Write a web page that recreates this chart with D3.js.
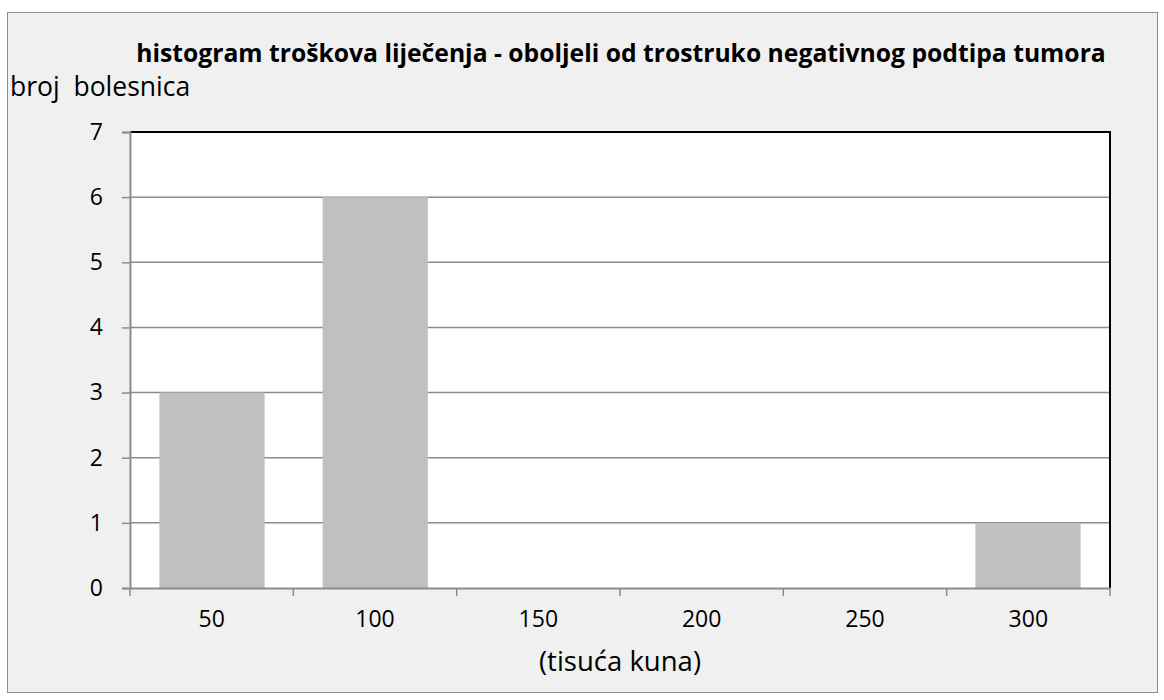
<!DOCTYPE html>
<html lang="hr">
<head>
<meta charset="UTF-8">
<title>histogram</title>
<script src="https://d3js.org/d3.v7.min.js"></script>
<style>
  body { margin: 0; background: #fff; }
  text { font-family: "Open Sans", "Noto Sans", sans-serif; fill: #000; }
</style>
</head>
<body>
<div id="main"></div>
<script>
// podaci
var categories = ['50', '100', '150', '200', '250', '300']
var counts = [3, 6, 0, 0, 0, 1]
var yTicks = [0, 1, 2, 3, 4, 5, 6, 7]

var width = 1164
var height = 700
var plot = {left: 130, top: 132, right: 1110, bottom: 588}

var svg = d3.select('#main').append('svg')
    .attr('width', width)
    .attr('height', height)

// pozadina i okvir
svg.append('rect')
    .attr('width', width).attr('height', height)
    .attr('fill', '#ffffff')
svg.append('rect')
    .attr('x', 7.5).attr('y', 12.5)
    .attr('width', 1150).attr('height', 680)
    .attr('fill', '#f0f0f0')
    .attr('stroke', '#8c8c8c')

// bijela površina grafa
svg.append('rect')
    .attr('x', plot.left).attr('y', plot.top)
    .attr('width', plot.right - plot.left).attr('height', plot.bottom - plot.top)
    .attr('fill', '#ffffff')

var xScale = d3.scaleBand()
    .domain(categories)
    .range([plot.left, plot.right])
    .paddingInner(0.355).paddingOuter(0.18)

var xTickScale = d3.scaleBand()
    .domain(categories)
    .range([plot.left, plot.right])

var yScale = d3.scaleLinear()
    .domain([0, 7])
    .range([plot.bottom, plot.top])

// mreža
svg.append('g')
    .selectAll('line')
    .data(yTicks.filter(d => d > 0 && d < 7))
    .enter()
    .append('line')
    .attr('x1', plot.left).attr('x2', plot.right)
    .attr('y1', d => yScale(d)).attr('y2', d => yScale(d))
    .attr('stroke', '#8c8c8c')
    .attr('stroke-width', 1.5)

// stupci
svg.append('g')
    .selectAll('rect')
    .data(counts)
    .enter()
    .append('rect')
    .attr('x', (d, i) => xScale(categories[i]))
    .attr('y', d => yScale(d))
    .attr('width', xScale.bandwidth())
    .attr('height', d => plot.bottom - yScale(d))
    .attr('fill', '#c0c0c0')

// crni gornji i desni rub
svg.append('path')
    .attr('d', `M${plot.left},${plot.top}H${plot.right}V${plot.bottom}`)
    .attr('fill', 'none')
    .attr('stroke', '#000')
    .attr('stroke-width', 2)

// y os
var yAxis = svg.append('g')
    .attr('transform', `translate(${plot.left},0)`)
    .call(d3.axisLeft(yScale).tickValues(yTicks).tickFormat(d3.format('d')).tickSize(8).tickPadding(19))
yAxis.select('.domain').attr('stroke', '#8c8c8c').attr('stroke-width', 2)
yAxis.selectAll('.tick line').attr('stroke', '#8c8c8c').attr('stroke-width', 1.5)
yAxis.selectAll('.tick text').style('font-size', '23px').attr('fill', '#000')

// x os
var xAxis = svg.append('g')
    .attr('transform', `translate(0,${plot.bottom})`)
    .call(d3.axisBottom(xTickScale).tickSize(0).tickPadding(23))
xAxis.select('.domain').attr('stroke', '#8c8c8c').attr('stroke-width', 2)
xAxis.selectAll('.tick text').style('font-size', '23px').attr('fill', '#000')

var xEdges = categories.map(c => xTickScale(c)).concat([plot.right])
svg.append('g')
    .selectAll('line')
    .data(xEdges)
    .enter()
    .append('line')
    .attr('x1', d => d).attr('x2', d => d)
    .attr('y1', plot.bottom).attr('y2', plot.bottom + 8)
    .attr('stroke', '#8c8c8c')
    .attr('stroke-width', 1.5)

// naslovi
svg.append('text')
    .attr('x', 621).attr('y', 62)
    .attr('text-anchor', 'middle')
    .style('font-size', '24.7px').style('font-weight', 'bold')
    .text('histogram troškova liječenja - oboljeli od trostruko negativnog podtipa tumora')

svg.append('text')
    .attr('x', 10).attr('y', 96)
    .style('font-size', '26.5px')
    .style('white-space', 'pre')
    .text('broj  bolesnica')

svg.append('text')
    .attr('x', 620).attr('y', 671)
    .attr('text-anchor', 'middle')
    .style('font-size', '27.5px')
    .text('(tisuća kuna)')
</script>
</body>
</html>
